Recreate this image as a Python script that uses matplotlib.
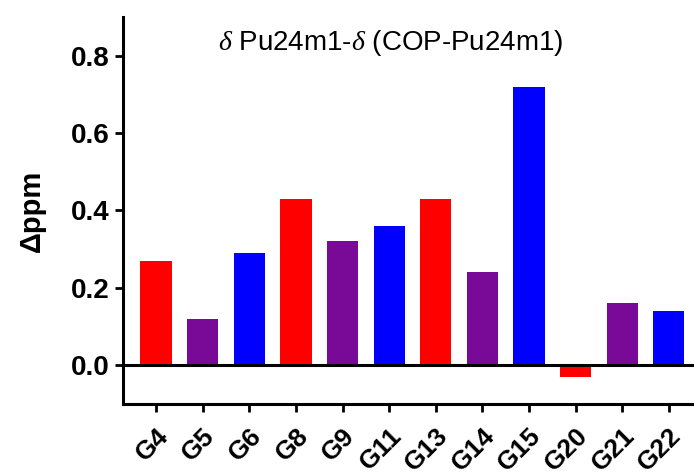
import matplotlib
matplotlib.use('Agg')
import matplotlib.pyplot as plt
from matplotlib.transforms import ScaledTranslation

plt.rcParams['font.family'] = ['Liberation Sans', 'DejaVu Sans']
plt.rcParams['mathtext.fontset'] = 'custom'
plt.rcParams['mathtext.it'] = 'Liberation Serif:italic'
plt.rcParams['mathtext.rm'] = 'Liberation Sans'

labels = ['G4', 'G5', 'G6', 'G8', 'G9', 'G11', 'G13', 'G14', 'G15', 'G20', 'G21', 'G22']
values = [0.27, 0.12, 0.29, 0.43, 0.32, 0.36, 0.43, 0.24, 0.72, -0.03, 0.16, 0.14]
colors = ['#ff0000', '#790a98', '#0000ff'] * 4

fig = plt.figure(figsize=(6.94, 4.73), dpi=100)
ax = fig.add_axes([123 / 694, 1 - 404 / 473, 1 - 123 / 694, 387 / 473])

x = range(len(labels))
ax.bar(x, values, width=0.67, color=colors)
ax.axhline(0, color='black', lw=2.2, zorder=3)

ax.set_xlim(-0.71, 11.54)
ax.set_ylim(-0.1, 0.9)
ax.set_yticks([0.0, 0.2, 0.4, 0.6, 0.8])
ax.set_yticklabels(['0.0', '0.2', '0.4', '0.6', '0.8'], fontsize=20, fontweight='bold')
ax.set_xticks(list(x))
ax.set_xticklabels(labels, rotation=45, ha='right', rotation_mode='anchor',
                   fontsize=19, fontweight='bold')
# nudge the rotated labels a little to the right, as in the original
for lab in ax.get_xticklabels():
    lab.set_transform(lab.get_transform() + ScaledTranslation(0.1, 0, fig.dpi_scale_trans))
ax.set_ylabel('Δppm', fontsize=21, fontweight='bold', labelpad=18)

for s in ['top', 'right']:
    ax.spines[s].set_visible(False)
for s in ['left', 'bottom']:
    ax.spines[s].set_linewidth(2.2)
ax.tick_params(width=2, length=6, direction='out')
ax.tick_params(axis='x', pad=8)

ax.text(391 / 694, 1 - 43 / 473, r'$\delta$ Pu24m1-$\delta$ (COP-Pu24m1)', transform=fig.transFigure,
        ha='center', va='center', fontsize=20)

fig.savefig('out.png', dpi=100)
